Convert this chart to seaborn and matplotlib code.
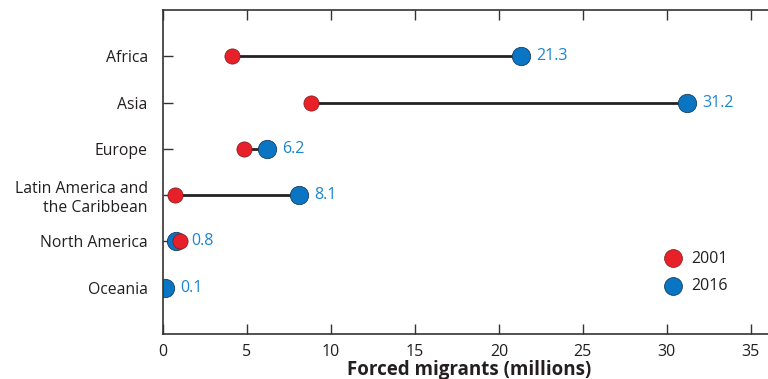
import numpy as np
import matplotlib.pyplot as plt
import pandas as pd
import seaborn as sns

regions = ["Africa", "Asia", "Europe", "Latin America and\nthe Caribbean",
           "North America", "Oceania"]
migrants_2001 = [4.1, 8.8, 4.8, 0.7, 1.0, np.nan]
migrants_2016 = [21.3, 31.2, 6.2, 8.1, 0.8, 0.1]
labels_2016 = ["21.3", "31.2", "6.2", "8.1", "0.8", "0.1"]
x_ticks = [0, 5, 10, 15, 20, 25, 30, 35]

red = "#e8202a"
blue = "#0a75c2"
txt = "#231f20"

sns.set_style("ticks")
plt.rcParams["font.family"] = ["Open Sans", "DejaVu Sans"]

df = pd.DataFrame({"region": regions, "y2001": migrants_2001, "y2016": migrants_2016})
df["pos"] = np.arange(len(df))

fig = plt.figure(figsize=(7.68, 3.79), dpi=100)
ax = fig.add_axes([163 / 768, 45 / 379, 613 / 768, 324 / 379])

# lignes entre les deux années
ax.hlines(df["pos"], df["y2001"].fillna(df["y2016"]), df["y2016"], color="#222222", lw=2, zorder=1)

sns.scatterplot(data=df, x="y2016", y="pos", ax=ax, s=175, color=blue,
                edgecolor="#1a3d66", linewidth=0.6, zorder=2, label="2016")
sns.scatterplot(data=df, x="y2001", y="pos", ax=ax, s=120, color=red,
                edgecolor="#7a1a1a", linewidth=0.5, zorder=3, label="2001")

for p, v, lab in zip(df["pos"], df["y2016"], labels_2016):
    ax.annotate(lab, (v, p), xytext=(11, 0), textcoords="offset points",
                va="center", ha="left", color="#1b86d0", fontsize=11.5)

ax.set_xlim(0, 36.5)
ax.set_ylim(6, -1)
ax.set_xticks(x_ticks)
ax.set_yticks(df["pos"])
ax.set_yticklabels(regions, color=txt, fontsize=11.3, linespacing=1.25)
ax.set_xticklabels([str(t) for t in x_ticks], color=txt, fontsize=11.5)
ax.tick_params(axis="both", direction="in", length=7, width=1, color="#333333")
ax.tick_params(axis="y", pad=11)
ax.tick_params(axis="x", top=True, pad=7)
ax.set_xlabel("Forced migrants (millions)", fontsize=13.5, fontweight="bold", color=txt, labelpad=0)
ax.set_ylabel("")
for s in ["left", "top", "bottom"]:
    ax.spines[s].set_visible(True)
    ax.spines[s].set_color("#333333")
    ax.spines[s].set_linewidth(1.2)
ax.spines["right"].set_visible(False)

h, l = ax.get_legend_handles_labels()
leg = ax.legend(h[::-1], l[::-1], loc="center left", bbox_to_anchor=(0.783, 0.19),
                frameon=False, fontsize=11.5, handletextpad=0.15, labelspacing=0.72)
for hd in leg.legend_handles:
    hd.set_sizes([165])
for t in leg.get_texts():
    t.set_color(txt)

fig.savefig("out.png", dpi=100)
